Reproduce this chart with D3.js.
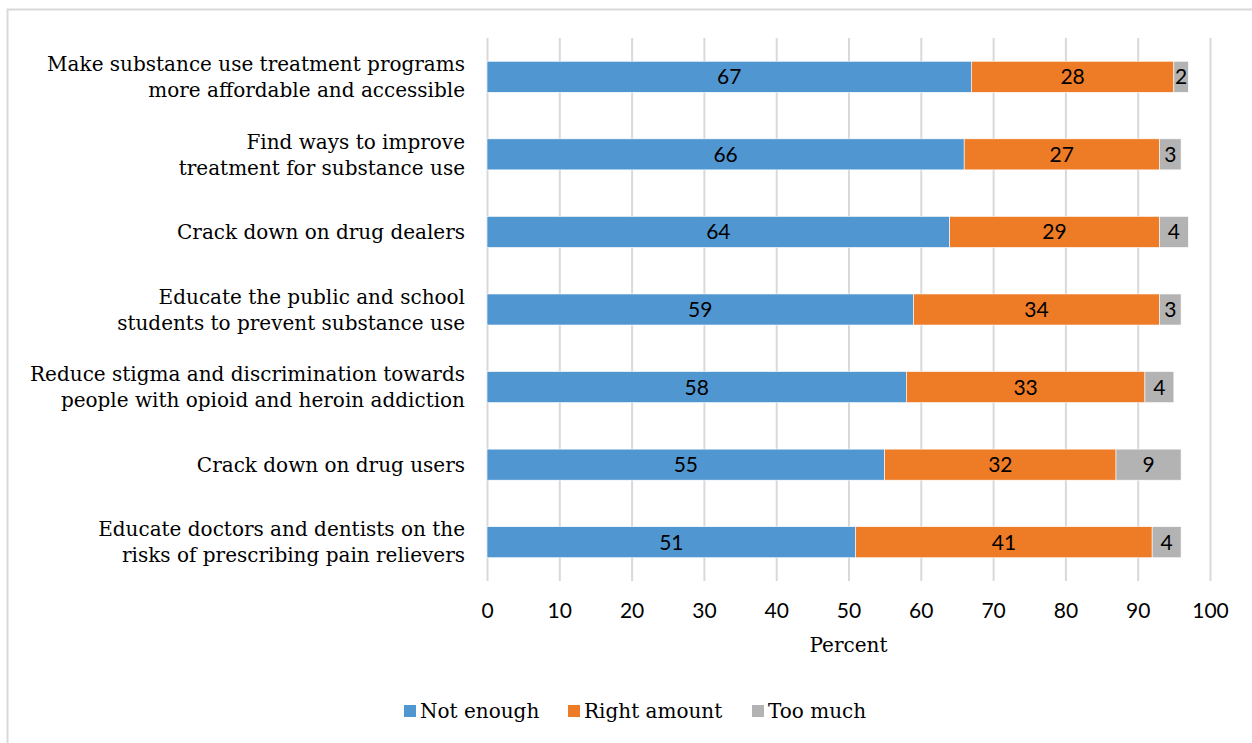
<!DOCTYPE html>
<html>
<head>
<meta charset="utf-8">
<script src="https://cdn.jsdelivr.net/npm/d3@7"></script>
<style>
  html, body { margin: 0; padding: 0; background: #fff; }
  svg { display: block; }
</style>
</head>
<body>
<svg id="chart" width="1252" height="743"></svg>
<script>
// Survey items, top to bottom
const categories = [
  ["Make substance use treatment programs", "more affordable and accessible"],
  ["Find ways to improve", "treatment for substance use"],
  ["Crack down on drug dealers"],
  ["Educate the public and school", "students to prevent substance use"],
  ["Reduce stigma and discrimination towards", "people with opioid and heroin addiction"],
  ["Crack down on drug users"],
  ["Educate doctors and dentists on the", "risks of prescribing pain relievers"]
];
const seriesNames = ["Not enough", "Right amount", "Too much"];
const notEnough   = [67, 66, 64, 59, 58, 55, 51];
const rightAmount = [28, 27, 29, 34, 33, 32, 41];
const tooMuch     = [2, 3, 4, 3, 4, 9, 4];
const xTicks = [0, 10, 20, 30, 40, 50, 60, 70, 80, 90, 100];
const xTitle = "Percent";

const colors = ["#5097d2", "#ee7b26", "#b3b3b3"];
const slab = "'DejaVu Serif', serif";
const sans = "Lato, 'Open Sans', sans-serif";

const svg = d3.select("#chart");

// outer frame
svg.append("rect")
  .attr("x", 7.5).attr("y", 9.5)
  .attr("width", 1300).attr("height", 800)
  .attr("fill", "none").attr("stroke", "#d9d9d9").attr("stroke-width", 2);

const x = d3.scaleLinear().domain([0, 100]).range([487, 1210]);
const y = d3.scaleBand().domain(d3.range(categories.length)).range([38, 581]).paddingInner(0.6).paddingOuter(0.3);

// rows built from the series arrays
const rows = categories.map((c, i) => ({ i, vals: [notEnough[i], rightAmount[i], tooMuch[i]] }));
const stacked = d3.stack().keys([0, 1, 2]).value((d, k) => d.vals[k])(rows);

// gridlines
svg.append("g")
  .attr("transform", "translate(0,581)")
  .call(d3.axisBottom(x).tickValues(xTicks).tickSize(-543).tickFormat(""))
  .call(g => g.select(".domain").remove())
  .call(g => g.selectAll(".tick line").attr("stroke", "#d9d9d9").attr("stroke-width", 2));

// tick labels
svg.append("g")
  .attr("transform", "translate(0,581)")
  .call(d3.axisBottom(x).tickValues(xTicks).tickSize(0).tickPadding(20))
  .call(g => g.select(".domain").remove())
  .call(g => g.selectAll(".tick text")
    .attr("font-family", sans).attr("font-size", 21).attr("fill", "#000")
    .attr("dy", 0).attr("y", 37));

// stacked bars
const layers = svg.append("g").selectAll("g").data(stacked).join("g")
  .attr("fill", (d, k) => colors[k]);
layers.selectAll("rect").data(d => d).join("rect")
  .attr("x", d => x(d[0]))
  .attr("width", d => x(d[1]) - x(d[0]))
  .attr("y", d => y(d.data.i))
  .attr("height", y.bandwidth())
  .attr("stroke", "#fff").attr("stroke-width", 0.6);

// value labels inside segments
layers.selectAll("text").data((d, k) => d.map(s => ({ s, k }))).join("text")
  .attr("x", d => (x(d.s[0]) + x(d.s[1])) / 2)
  .attr("y", d => y(d.s.data.i) + y.bandwidth() / 2)
  .attr("dy", "0.36em")
  .attr("text-anchor", "middle")
  .attr("font-family", sans).attr("font-size", 21).attr("fill", "#000")
  .text(d => d.s.data.vals[d.k]);

// category labels
const catG = svg.append("g");
categories.forEach((lines, i) => {
  const cy = y(i) + y.bandwidth() / 2;
  const lh = 26;
  const t = catG.append("text")
    .attr("text-anchor", "end")
    .attr("font-family", slab).attr("font-size", 20).attr("fill", "#000");
  lines.forEach((ln, j) => {
    t.append("tspan")
      .attr("x", 465)
      .attr("y", cy + (j - (lines.length - 1) / 2) * lh)
      .attr("dy", "0.36em")
      .text(ln);
  });
});

// axis title
svg.append("text")
  .attr("x", x(50)).attr("y", 652)
  .attr("text-anchor", "middle")
  .attr("font-family", slab).attr("font-size", 20).attr("fill", "#000")
  .text(xTitle);

// legend
const legendX = [404, 568, 752];
const lg = svg.append("g").selectAll("g").data(seriesNames).join("g")
  .attr("transform", (d, k) => `translate(${legendX[k]},705)`);
lg.append("rect").attr("width", 12).attr("height", 12).attr("fill", (d, k) => colors[k]);
lg.append("text")
  .attr("x", 16).attr("y", 13)
  .attr("font-family", slab).attr("font-size", 20).attr("fill", "#000")
  .text(d => d);
</script>
</body>
</html>
